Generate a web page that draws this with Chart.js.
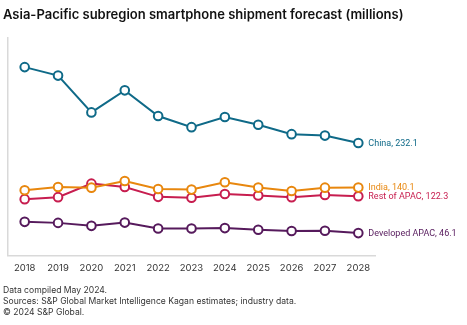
<!DOCTYPE html>
<html lang="en">
<head>
<meta charset="UTF-8">
<title>Asia-Pacific subregion smartphone shipment forecast</title>
<script src="https://cdn.jsdelivr.net/npm/chart.js"></script>
<style>
    body { margin: 0; background: #fff; font-family: Inter, "Open Sans", sans-serif; }
    #wrap { position: relative; width: 467px; height: 325px; }
    #title {
        position: absolute; left: 3px; top: 6px;
        font-size: 13px; font-weight: 600; color: #111;
        white-space: nowrap;
    }
    #chart { position: absolute; left: 0; top: 0; width: 467px; height: 325px; }
    #notes {
        position: absolute; left: 3px; top: 284.5px;
        font-size: 8.6px; line-height: 11px; color: #333;
        white-space: nowrap;
    }
</style>
</head>
<body>
<div id="wrap">
    <div id="chart"><canvas id="c" width="467" height="325"></canvas></div>
    <div id="title">Asia-Pacific subregion smartphone shipment forecast (millions)</div>
    <div id="notes">
        Data compiled May 2024.<br>
        Sources: S&amp;P Global Market Intelligence Kagan estimates; industry data.<br>
        &copy; 2024 S&amp;P Global.
    </div>
</div>
<script>
    const years = ['2018', '2019', '2020', '2021', '2022', '2023', '2024', '2025', '2026', '2027', '2028'];

    const china = [389.0, 371.5, 295.5, 341.0, 288.0, 265.0, 286.0, 270.0, 250.5, 247.5, 232.1];
    const india = [134.6, 141.4, 140.0, 153.6, 137.3, 136.0, 151.0, 140.1, 133.2, 140.0, 140.1];
    const restOfApac = [116.2, 120.3, 148.3, 141.4, 121.0, 119.0, 127.0, 123.8, 120.3, 125.0, 122.3];
    const developedApac = [69.3, 67.2, 61.1, 67.8, 55.6, 55.6, 56.4, 52.9, 50.3, 50.9, 46.1];

    function series(label, data, color) {
        return {
            label: label,
            data: data,
            borderColor: color,
            backgroundColor: '#fff',
            borderWidth: 2,
            pointRadius: 4.3,
            pointBorderWidth: 2,
            pointBackgroundColor: '#fff',
            pointBorderColor: color,
            tension: 0
        };
    }

    // name + last value printed to the right of each line
    const endLabels = {
        id: 'endLabels',
        afterDatasetsDraw(chart) {
            const ctx = chart.ctx;
            ctx.save();
            ctx.font = '9px Roboto, Inter, sans-serif';
            ctx.textBaseline = 'middle';
            chart.data.datasets.forEach((ds, i) => {
                const pts = chart.getDatasetMeta(i).data;
                const last = pts[pts.length - 1];
                ctx.fillStyle = ds.borderColor;
                ctx.fillText(ds.label + ', ' + ds.data[ds.data.length - 1], last.x + 10, last.y + 0.5);
            });
            ctx.restore();
        }
    };

    new Chart(document.getElementById('c'), {
        type: 'line',
        data: {
            labels: years,
            datasets: [
                series('China', china, '#0f6a88'),
                series('India', india, '#e8870e'),
                series('Rest of APAC', restOfApac, '#c71d4f'),
                series('Developed APAC', developedApac, '#561a5c')
            ]
        },
        options: {
            responsive: false,
            animation: false,
            devicePixelRatio: 1,
            layout: { padding: { left: 8, right: 92, top: 37.6, bottom: 44.2 } },
            plugins: {
                legend: { display: false },
                tooltip: { enabled: false }
            },
            scales: {
                x: {
                    offset: true,
                    grid: { display: false, drawTicks: false },
                    border: { display: true, color: '#d9d9d9', width: 1.5 },
                    ticks: { color: '#333', padding: 7, maxRotation: 0, autoSkip: false, font: { size: 9.5, family: 'Inter' } }
                },
                y: {
                    min: 0,
                    max: 450,
                    grid: { display: false, drawTicks: false },
                    border: { display: true, color: '#d9d9d9', width: 1.5 },
                    ticks: { display: false }
                }
            }
        },
        plugins: [endLabels]
    });
</script>
</body>
</html>
